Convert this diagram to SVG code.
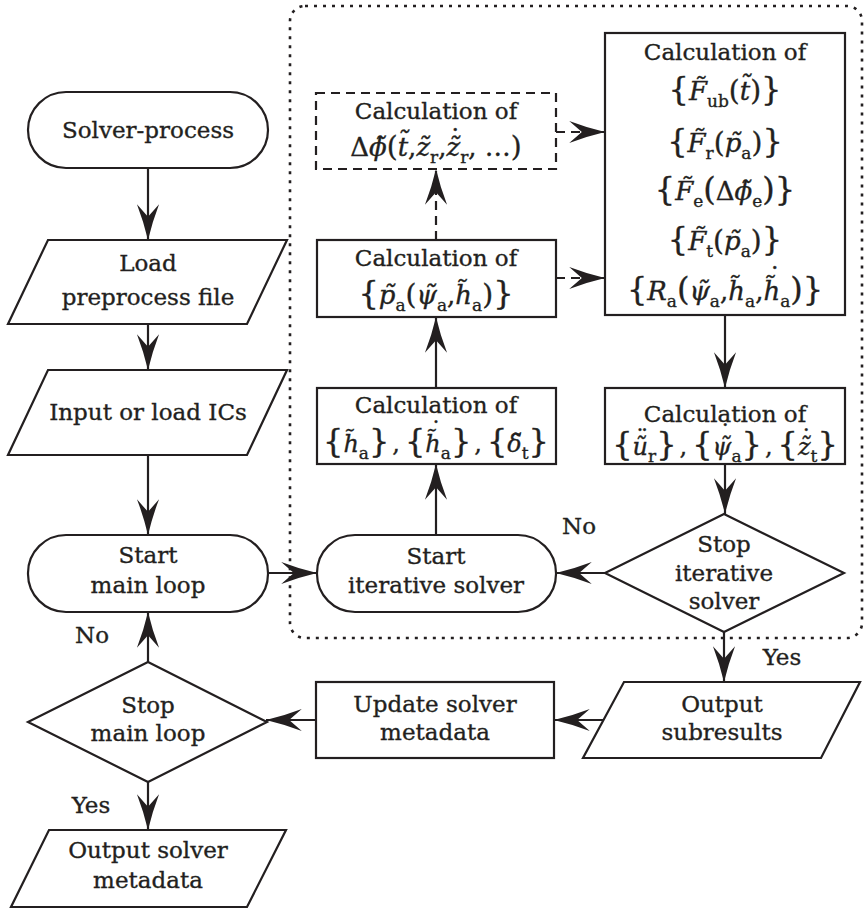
<svg xmlns="http://www.w3.org/2000/svg" width="864" height="909" viewBox="0 0 864 909">
  <style>
    .shape { fill: #ffffff; stroke: #231f20; stroke-width: 2.2; }
    .dash { stroke-dasharray: 9 6; }
    .frame { fill: none; stroke: #231f20; stroke-width: 2.6; stroke-dasharray: 3 6; }
    .edge { fill: none; stroke: #231f20; stroke-width: 2.2; marker-end: url(#arrow); }
    .t { font-family: "DejaVu Serif", serif; font-size: 23px; fill: #231f20; stroke: #231f20; stroke-width: 0.35; text-anchor: middle; }
    .m { font-size: 26px; }
    .n { font-size: 24px; }
    .i { font-style: italic; }
    .s { font-size: 17px; font-style: normal; }
    .b { font-size: 32px; font-style: normal; }
    .p { font-size: 28px; font-style: normal; }
    .d { font-style: normal; }
  </style>
  <defs>
    <marker id="arrow" markerUnits="userSpaceOnUse" markerWidth="40" markerHeight="30" viewBox="-36 -12 38 24" refX="0" refY="0" orient="auto">
      <path d="M0,0 Q-17,-4 -34,-10.5 L-22,0 L-34,10.5 Q-17,4 0,0 Z" fill="#231f20"/>
    </marker>
  </defs>

  <!-- iterative solver region -->
  <rect class="frame" x="290" y="6" width="572" height="632" rx="15"/>

  <!-- connectors -->
  <g id="connectors">
    <path class="edge" d="M148,168 V240"/>
    <path class="edge" d="M148,324 V370"/>
    <path class="edge" d="M148,455 V535"/>
    <path class="edge" d="M268,573 H317"/>
    <path class="edge" d="M436,535 V464"/>
    <path class="edge" d="M436,388 V317"/>
    <path class="edge dash" d="M436,240 V169"/>
    <path class="edge dash" d="M556,132 H605"/>
    <path class="edge dash" d="M556,278 H605"/>
    <path class="edge" d="M725,315 V388"/>
    <path class="edge" d="M725,464 V514"/>
    <path class="edge" d="M605,573 H556"/>
    <path class="edge" d="M724,632 V682"/>
    <path class="edge" d="M603,720 H554"/>
    <path class="edge" d="M316,720 H266"/>
    <path class="edge" d="M148,662 V612"/>
    <path class="edge" d="M148,782 V830"/>
    <text class="t" x="579" y="534">No</text>
    <text class="t" x="92" y="643">No</text>
    <text class="t" x="782" y="665">Yes</text>
    <text class="t" x="91" y="813">Yes</text>
  </g>

  <!-- main loop column -->
  <g id="solver-process">
    <rect class="shape" x="28" y="92" width="240" height="76" rx="38"/>
    <text class="t" x="148" y="138">Solver-process</text>
  </g>
  <g id="load-preprocess">
    <polygon class="shape" points="48,240 287,240 247,324 8,324"/>
    <text class="t" x="148" y="271">Load</text>
    <text class="t" x="148" y="305">preprocess file</text>
  </g>
  <g id="input-ics">
    <polygon class="shape" points="48,370 287,370 247,455 8,455"/>
    <text class="t" x="148" y="420">Input or load ICs</text>
  </g>
  <g id="start-main-loop">
    <rect class="shape" x="28" y="535" width="240" height="77" rx="38"/>
    <text class="t" x="148" y="563">Start</text>
    <text class="t" x="148" y="593">main loop</text>
  </g>
  <g id="stop-main-loop">
    <polygon class="shape" points="148,662 267,722 148,782 28,722"/>
    <text class="t" x="148" y="713">Stop</text>
    <text class="t" x="148" y="741">main loop</text>
  </g>
  <g id="output-solver-metadata">
    <polygon class="shape" points="49,830 286,830 247,907 11,907"/>
    <text class="t" x="148" y="858">Output solver</text>
    <text class="t" x="148" y="888">metadata</text>
  </g>
  <g id="update-metadata">
    <rect class="shape" x="316" y="682" width="238" height="76"/>
    <text class="t" x="435" y="712">Update solver</text>
    <text class="t" x="435" y="740">metadata</text>
  </g>
  <g id="output-subresults">
    <polygon class="shape" points="624,682 860,682 821,758 583,758"/>
    <text class="t" x="722" y="712">Output</text>
    <text class="t" x="722" y="740">subresults</text>
  </g>

  <!-- iterative solver column -->
  <g id="start-iterative">
    <rect class="shape" x="317" y="535" width="239" height="77" rx="38"/>
    <text class="t" x="436" y="564">Start</text>
    <text class="t" x="436" y="593">iterative solver</text>
  </g>
  <g id="calc-h">
    <rect class="shape" x="317" y="388" width="239" height="76"/>
    <text class="t" x="436" y="413">Calculation of</text>
    <text class="t n" x="436" y="452"><tspan class="b">{</tspan><tspan class="i">h&#x303;</tspan><tspan class="s" dy="7">a</tspan><tspan class="b" dy="-7">}</tspan><tspan dx="3">,</tspan><tspan class="b" dx="5">{</tspan><tspan class="i">h&#x303;</tspan><tspan class="d" dx="-10.7" dy="-13">˙</tspan><tspan class="s" dx="-1.3" dy="20">a</tspan><tspan class="b" dy="-7">}</tspan><tspan dx="3">,</tspan><tspan class="b" dx="5">{</tspan><tspan class="i">δ&#x303;</tspan><tspan class="s" dy="7">t</tspan><tspan class="b" dy="-7">}</tspan></text>
  </g>
  <g id="calc-p">
    <rect class="shape" x="317" y="240" width="239" height="77"/>
    <text class="t" x="436" y="266">Calculation of</text>
    <text class="t m" x="436" y="304"><tspan class="b">{</tspan><tspan class="i">p&#x303;</tspan><tspan class="s" dy="7">a</tspan><tspan class="p" dy="-7">(</tspan><tspan class="i">ψ&#x303;</tspan><tspan class="s" dy="7">a</tspan><tspan dy="-7">,</tspan><tspan class="i">h&#x303;</tspan><tspan class="s" dy="7">a</tspan><tspan class="p" dy="-7">)</tspan><tspan class="b">}</tspan></text>
  </g>
  <g id="calc-phi">
    <rect class="shape dash" x="316" y="93" width="240" height="76"/>
    <text class="t" x="436" y="119">Calculation of</text>
    <text class="t m" x="436" y="156"><tspan>Δ</tspan><tspan class="i">ϕ&#x303;</tspan><tspan class="p">(</tspan><tspan class="i">t&#x303;</tspan>,<tspan class="i">z&#x303;</tspan><tspan class="s" dy="7">r</tspan><tspan dy="-7">,</tspan><tspan class="i">z&#x303;</tspan><tspan class="d" dx="-11.4" dy="-8">˙</tspan><tspan class="s" dx="-1.6" dy="15">r</tspan><tspan dy="-7">, …</tspan><tspan class="p">)</tspan></text>
  </g>
  <g id="calc-forces">
    <rect class="shape" x="605" y="33" width="240" height="282"/>
    <text class="t" x="725" y="60">Calculation of</text>
    <text class="t m" x="725" y="100"><tspan class="b">{</tspan><tspan class="i">F&#x303;</tspan><tspan class="s" dy="7">ub</tspan><tspan class="p" dy="-7">(</tspan><tspan class="i">t&#x303;</tspan><tspan class="p">)</tspan><tspan class="b">}</tspan></text>
    <text class="t m" x="725" y="152"><tspan class="b">{</tspan><tspan class="i">F&#x303;</tspan><tspan class="s" dy="7">r</tspan><tspan class="p" dy="-7">(</tspan><tspan class="i">p&#x303;</tspan><tspan class="s" dy="7">a</tspan><tspan class="p" dy="-7">)</tspan><tspan class="b">}</tspan></text>
    <text class="t m" x="725" y="200"><tspan class="b">{</tspan><tspan class="i">F&#x303;</tspan><tspan class="s" dy="7">e</tspan><tspan class="b" dy="-7">(</tspan><tspan>Δ</tspan><tspan class="i">ϕ&#x303;</tspan><tspan class="s" dy="7">e</tspan><tspan class="b" dy="-7">)</tspan><tspan class="b">}</tspan></text>
    <text class="t m" x="725" y="250"><tspan class="b">{</tspan><tspan class="i">F&#x303;</tspan><tspan class="s" dy="7">t</tspan><tspan class="p" dy="-7">(</tspan><tspan class="i">p&#x303;</tspan><tspan class="s" dy="7">a</tspan><tspan class="p" dy="-7">)</tspan><tspan class="b">}</tspan></text>
    <text class="t m" x="725" y="300"><tspan class="b">{</tspan><tspan class="i">R</tspan><tspan class="s" dy="7">a</tspan><tspan class="b" dy="-7">(</tspan><tspan class="i">ψ&#x303;</tspan><tspan class="s" dy="7">a</tspan><tspan dy="-7">,</tspan><tspan class="i">h&#x303;</tspan><tspan class="s" dy="7">a</tspan><tspan dy="-7">,</tspan><tspan class="i">h&#x303;</tspan><tspan class="d" dx="-11.8" dy="-14">˙</tspan><tspan class="s" dx="-1.2" dy="21">a</tspan><tspan class="b" dy="-7">)</tspan><tspan class="b">}</tspan></text>
  </g>
  <g id="calc-rates">
    <rect class="shape" x="605" y="388" width="240" height="76"/>
    <text class="t" x="725" y="422">Calculation of</text>
    <text class="t n" x="725" y="455"><tspan class="b">{</tspan><tspan class="i">u&#x303;</tspan><tspan class="d" dx="-11.7" dy="-8">¨</tspan><tspan class="s" dx="-0.3" dy="15">r</tspan><tspan class="b" dy="-7">}</tspan><tspan dx="3">,</tspan><tspan class="b" dx="5">{</tspan><tspan class="i">ψ&#x303;</tspan><tspan class="d" dx="-12.2" dy="-13">˙</tspan><tspan class="s" dx="0.2" dy="20">a</tspan><tspan class="b" dy="-7">}</tspan><tspan dx="3">,</tspan><tspan class="b" dx="5">{</tspan><tspan class="i">z&#x303;</tspan><tspan class="d" dx="-10.3" dy="-8">˙</tspan><tspan class="s" dx="-1.7" dy="15">t</tspan><tspan class="b" dy="-7">}</tspan></text>
  </g>
  <g id="stop-iterative">
    <polygon class="shape" points="724,514 844,573 724,632 605,573"/>
    <text class="t" x="724" y="552">Stop</text>
    <text class="t" x="724" y="581">iterative</text>
    <text class="t" x="724" y="609">solver</text>
  </g>
</svg>
